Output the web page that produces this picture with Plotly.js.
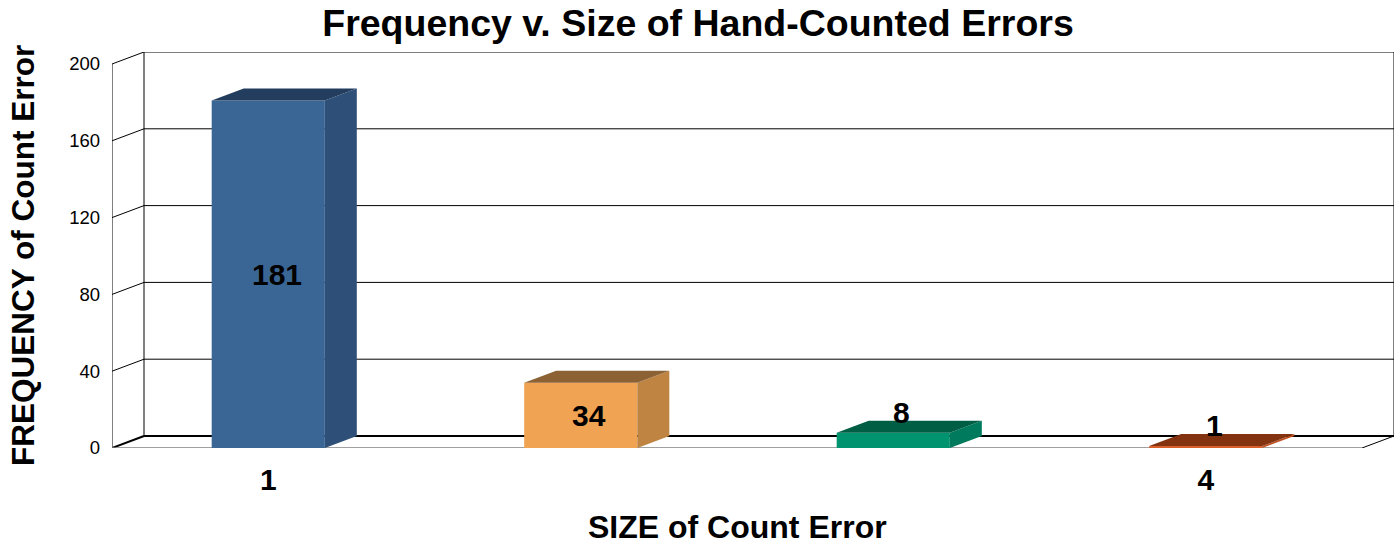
<!DOCTYPE html>
<html>
<head>
<meta charset="utf-8">
<script src="https://cdn.plot.ly/plotly-3.0.1.min.js"></script>
<style>html,body{margin:0;padding:0;background:#fff;}#chart{width:1396px;height:546px;}</style>
</head>
<body>
<div id="chart"></div>
<script>
// ---- data ----
const categories = ['1', '2', '3', '4'];
const frequencies = [181, 34, 8, 1];
const tickLabels = ['1', '', '', '4'];
const yTicks = [0, 40, 80, 120, 160, 200];
const chartTitle = 'Frequency v. Size of Hand-Counted Errors';
const xTitle = 'SIZE of Count Error';
const yTitle = 'FREQUENCY of Count Error';

// ---- style ----
const frontColors = ['#3A6696', '#F0A352', '#009370', '#D9602A'];
const sideColors  = ['#2E5078', '#BF8442', '#007A5C', '#C0501F'];
const topColors   = ['#233D5E', '#8C6234', '#005E45', '#843311'];
const FONT = 'Liberation Sans, Arial, sans-serif';

const W = 1396, H = 546;
const M = {l: 112, r: 2, t: 52, b: 98};
const plotW = W - M.l - M.r, plotH = H - M.t - M.b;
const DEPTH_PX_X = 32, DEPTH_PX_Y = 12;
const nCat = categories.length;
const yMax = yTicks[yTicks.length - 1];
const xLo = -0.5, xHi = nCat - 0.5;
const pxPerX = (plotW - DEPTH_PX_X) / (xHi - xLo);
const pxPerY = (plotH - DEPTH_PX_Y) / yMax;
const DX = DEPTH_PX_X / pxPerX;
const DY = DEPTH_PX_Y / pxPerY;
const BAR_W = 0.362;

const xIdx = categories.map((c, i) => i);

const shapes = [];
function line(x0, y0, x1, y1, color, width, layer) {
  shapes.push({type: 'line', xref: 'x', yref: 'y', x0, y0, x1, y1,
    line: {color, width}, layer: layer || 'below'});
}
// walls & gridlines
yTicks.forEach(v => {
  line(xLo, v, xLo + DX, v + DY, '#000', v === 0 ? 2 : 1);
  if (v > 0) line(xLo + DX, v + DY, xHi + DX, v + DY, '#000', 1);
});
line(xLo + DX, DY, xHi + DX, DY, '#000', 2);           // back floor edge
line(xLo, 0, xLo, yMax, '#000', 1);                    // front axis
line(xLo + DX, DY, xLo + DX, yMax + DY, '#000', 1);    // back-left edge
line(xHi + DX, DY, xHi + DX, yMax + DY, '#000', 1);    // back-right edge
line(xLo, 0, xHi, 0, '#808080', 1.5);                  // front floor edge
line(xHi, 0, xHi + DX, DY, '#000', 1);                 // right floor edge

// 3D faces of bars
frequencies.forEach((v, i) => {
  const xl = xIdx[i] - BAR_W / 2, xr = xIdx[i] + BAR_W / 2;
  shapes.push({type: 'path', xref: 'x', yref: 'y', layer: 'above',
    path: `M${xr},0 L${xr + DX},${DY} L${xr + DX},${v + DY} L${xr},${v} Z`,
    fillcolor: sideColors[i], line: {width: 0}});
  shapes.push({type: 'path', xref: 'x', yref: 'y', layer: 'above',
    path: `M${xl},${v} L${xr},${v} L${xr + DX},${v + DY} L${xl + DX},${v + DY} Z`,
    fillcolor: topColors[i], line: {width: 0}});
});

// data labels
const annotations = frequencies.map((v, i) => {
  const inside = v * pxPerY > 40;
  return {
    xref: 'x', yref: 'y', x: xIdx[i] + 0.027, y: inside ? v / 2 : v + DY / 2,
    text: '<b>' + v + '</b>', showarrow: false,
    yanchor: inside ? 'middle' : 'bottom', yshift: inside ? 0 : -4,
    font: {family: FONT, size: 30, color: '#000'}
  };
});
annotations.push({
  xref: 'x', yref: 'paper', x: (xLo + xHi) / 2, y: (0 - 79) / plotH,
  text: '<b>' + xTitle + '</b>', showarrow: false, yanchor: 'middle',
  font: {family: FONT, size: 32, color: '#000'}
});
annotations.push({
  xref: 'paper', yref: 'y', x: (23 - M.l) / plotW, y: yMax / 2,
  text: '<b>' + yTitle + '</b>', showarrow: false, textangle: -90,
  xanchor: 'center', yanchor: 'middle',
  font: {family: FONT, size: 31.5, color: '#000'}
});

const trace = {
  type: 'bar', x: xIdx, y: frequencies, width: BAR_W,
  marker: {color: frontColors, line: {width: 0}},
  hoverinfo: 'skip'
};

const layout = {
  width: W, height: H, margin: M,
  paper_bgcolor: '#fff', plot_bgcolor: 'rgba(0,0,0,0)',
  showlegend: false,
  title: {text: '<b>' + chartTitle + '</b>', font: {family: FONT, size: 37.5, color: '#000'},
    xref: 'container', x: 0.5, xanchor: 'center', yref: 'container', y: 1 - 23 / H, yanchor: 'middle'},
  xaxis: {range: [xLo, xHi + DX], tickvals: xIdx, ticktext: tickLabels.map(t => t ? '<b>' + t + '</b>' : ''),
    showgrid: false, zeroline: false, showline: false, ticks: '', ticklabelstandoff: 11,
    tickfont: {family: FONT, size: 30, color: '#000'}, fixedrange: true},
  yaxis: {range: [0, yMax + DY], tickvals: yTicks, ticktext: yTicks.map(String),
    showgrid: false, zeroline: false, showline: false, ticks: '', ticklabelstandoff: 11,
    tickfont: {family: FONT, size: 18.5, color: '#000'}, fixedrange: true},
  shapes, annotations
};

Plotly.newPlot('chart', [trace], layout, {displayModeBar: false, staticPlot: true});
</script>
</body>
</html>
